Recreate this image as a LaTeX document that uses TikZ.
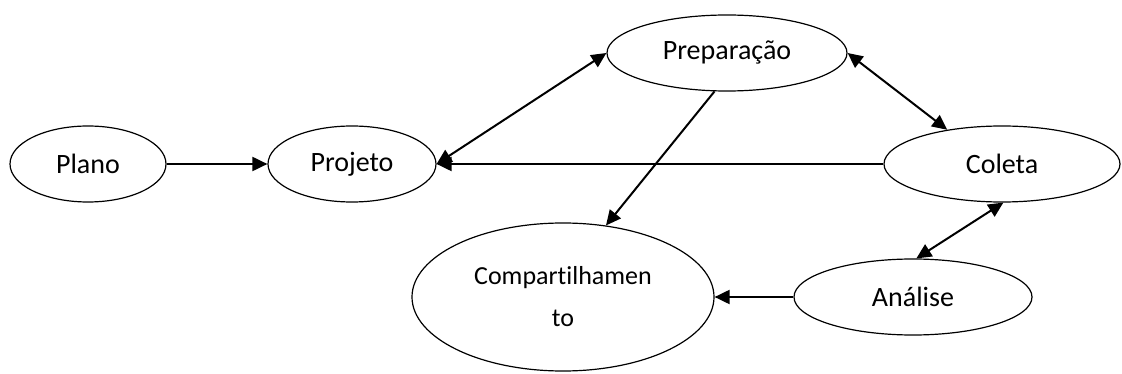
\documentclass[tikz,border=0pt]{standalone}
\usepackage{fontspec}
\setmainfont{Carlito}[Ligatures={NoCommon}]
\usetikzlibrary{shapes.geometric,arrows.meta}
\begin{document}
\begin{tikzpicture}[x=1pt,y=-1pt,
  stage/.style={draw=black,line width=1.2pt,ellipse,inner sep=0pt,
    font=\fontsize{28}{34}\selectfont},
  link/.style={line width=2pt,-{Triangle[length=15pt,width=14pt]}},
  twoway/.style={line width=2pt,{Triangle[length=15pt,width=14pt]}-{Triangle[length=15pt,width=14pt]}}]
\useasboundingbox (0,0) rectangle (1122,374);
\node[stage,minimum width=156pt,minimum height=76pt] (plano) at (88,164) {Plano};
\node[stage,minimum width=168pt,minimum height=76pt] (projeto) at (352,164) {Projeto};
\node[stage,minimum width=240pt,minimum height=76pt] (prep) at (727,53) {Preparação};
\node[stage,minimum width=236pt,minimum height=76pt] (coleta) at (1002,164) {Coleta};
\node[stage,minimum width=302pt,minimum height=148pt,align=center,
  font=\fontsize{26}{42}\selectfont] (comp) at (563,297) {Compartilhamen\\to};
\node[stage,minimum width=238pt,minimum height=76pt] (analise) at (913,297) {Análise};

\draw[link] (plano.east) -- (projeto.west);
\draw[twoway] (projeto.east) -- (prep.west);
\draw[link] (coleta.west) -- (projeto.east);
\draw[link] (prep.-108) -- (comp.59);
\draw[twoway] (prep.east) -- (coleta.148);
\draw[twoway] (coleta.-88) -- (analise.85);
\draw[link] (analise.west) -- (comp.east);
\end{tikzpicture}
\end{document}
